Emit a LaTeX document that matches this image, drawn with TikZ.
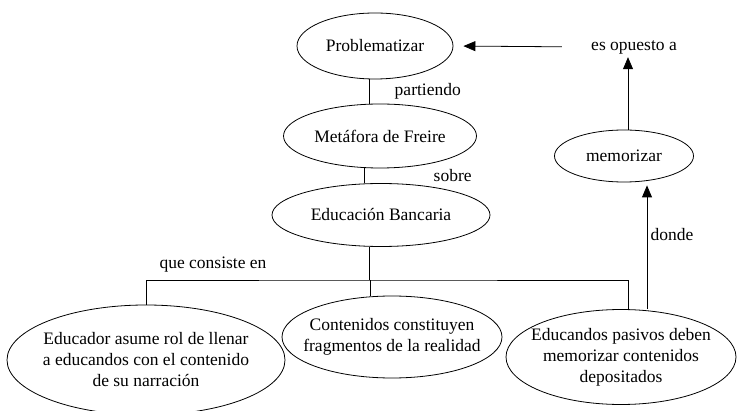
\documentclass[tikz,border=0pt]{standalone}
\usepackage{fontspec}
\setmainfont{Liberation Serif}
\usetikzlibrary{shapes.geometric,arrows.meta}

\begin{document}
\begin{tikzpicture}[x=1pt,y=-1pt,line width=0.8pt,
  every node/.style={font=\rmfamily\fontsize{17.5}{21}\selectfont},
  concept/.style={draw, ellipse, inner xsep=-20pt, inner ysep=0pt, align=center},
  arr/.style={-{Triangle[length=12pt,width=10pt]}}]
\useasboundingbox (0,0) rectangle (738,411);
\node[concept, minimum width=156pt, minimum height=66pt] (A) at (375,46) {Problematizar};
\node[concept, minimum width=193pt, minimum height=64pt] (B) at (380,136) {Metáfora de Freire};
\node[concept, minimum width=218pt, minimum height=63pt] (C) at (381,215) {Educación Bancaria};
\node[concept, minimum width=278pt, minimum height=110pt] (D) at (146,360)
  {Educador asume rol de llenar\\a educandos con el contenido\\de su narración};
\node[concept, minimum width=220pt, minimum height=82pt] (E) at (392,337)
  {Contenidos constituyen\\fragmentos de la realidad};
\node[concept, minimum width=230pt, minimum height=95pt] (F) at (621,357)
  {Educandos pasivos deben\\memorizar contenidos\\depositados};
\node[concept, minimum width=139pt, minimum height=52pt] (G) at (624,156) {memorizar};
\node[inner sep=3pt] (H) at (634,47) {es opuesto a};
\coordinate (J) at (369,280);
\draw ([xshift=-6pt]A.south) to
node[right=22pt] (l1) {partiendo} ([xshift=-11pt]B.north);
\draw ([xshift=-16pt]B.north |- B.south) to
node[right=66pt] (l2) {sobre} ([xshift=-17pt]C.north);
\draw ([xshift=-12pt]C.south) -- (J);
\draw (D.north) |- (J) -| ([xshift=7pt]F.north);
\draw ([xshift=-22pt]E.north) -- ([xshift=-22pt]E.north |- J);
\node (l3) at (213,265) {que consiste en};
\draw[arr] ([xshift=26pt]F.north) --
node[pos=0.6, right] (l4) {donde} ([xshift=23pt,yshift=-3pt]G.south);
\draw[arr] ([xshift=4pt]G.north) -- ([xshift=4pt]G.north |- H.south);
\draw[arr, shorten <=26pt, shorten >=10pt] (H.west) -- (A.east);
\end{tikzpicture}
\end{document}
